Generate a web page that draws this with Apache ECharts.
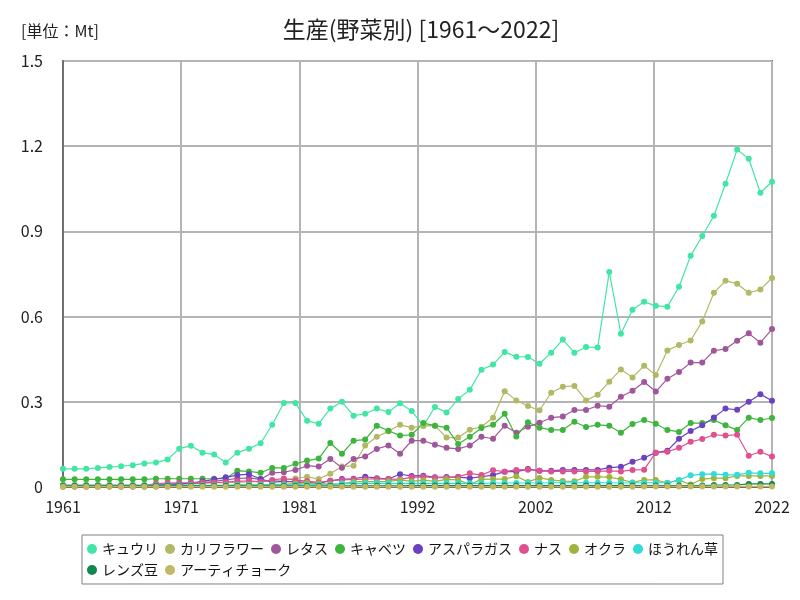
<!DOCTYPE html>
<html>
<head>
<meta charset="utf-8">
<script src="https://cdn.jsdelivr.net/npm/echarts@6/dist/echarts.min.js"></script>
<style>html,body{margin:0;padding:0;background:#fff;}#c{width:800px;height:600px;}</style>
</head>
<body>
<div id="c"></div>
<script>
const years = [];
for (let y = 1961; y <= 2022; y++) years.push(y);

const seriesNames = ['キュウリ','カリフラワー','レタス','キャベツ','アスパラガス','ナス','オクラ','ほうれん草','レンズ豆','アーティチョーク'];
const seriesColors = ['#42e6a4','#b3b865','#a0579a','#3db53d','#6c40c2','#e0508f','#9fb43c','#32dcd6','#10884f','#c2b862'];

const cucumber = [0.064,0.064,0.064,0.067,0.070,0.073,0.077,0.083,0.086,0.097,
0.135,0.145,0.121,0.114,0.086,0.121,0.135,0.154,0.219,0.296,
0.296,0.233,0.223,0.276,0.300,0.251,0.258,0.276,0.264,0.295,
0.268,0.215,0.282,0.262,0.310,0.342,0.413,0.431,0.475,0.459,
0.458,0.434,0.473,0.519,0.473,0.493,0.491,0.757,0.540,0.624,
0.652,0.638,0.635,0.705,0.814,0.884,0.955,1.068,1.188,1.156,
1.036,1.075];
const cauliflower = [0.008,0.008,0.008,0.008,0.008,0.008,0.008,0.008,0.010,0.010,
0.012,0.012,0.013,0.014,0.015,0.017,0.018,0.020,0.022,0.025,
0.030,0.036,0.028,0.047,0.072,0.075,0.146,0.177,0.196,0.219,
0.209,0.215,0.216,0.174,0.174,0.202,0.212,0.244,0.337,0.305,
0.285,0.270,0.332,0.353,0.356,0.305,0.325,0.371,0.414,0.386,
0.427,0.394,0.481,0.500,0.516,0.583,0.684,0.726,0.716,0.684,
0.695,0.736];
const lettuce = [0.004,0.004,0.004,0.004,0.004,0.004,0.004,0.004,0.008,0.010,
0.012,0.012,0.015,0.020,0.025,0.030,0.032,0.027,0.050,0.052,
0.060,0.075,0.072,0.099,0.068,0.099,0.107,0.134,0.146,0.117,
0.163,0.163,0.149,0.138,0.134,0.146,0.177,0.170,0.216,0.191,
0.212,0.226,0.244,0.248,0.271,0.271,0.286,0.283,0.318,0.339,
0.370,0.336,0.381,0.405,0.438,0.438,0.480,0.486,0.515,0.541,
0.508,0.556];
const cabbage = [0.027,0.027,0.027,0.027,0.027,0.027,0.027,0.027,0.029,0.029,
0.029,0.029,0.029,0.029,0.030,0.057,0.055,0.050,0.067,0.067,
0.082,0.093,0.100,0.155,0.117,0.163,0.167,0.216,0.198,0.181,
0.184,0.225,0.216,0.209,0.151,0.177,0.208,0.219,0.258,0.178,
0.228,0.209,0.201,0.201,0.230,0.211,0.219,0.216,0.191,0.222,
0.236,0.223,0.201,0.194,0.225,0.225,0.236,0.217,0.201,0.244,
0.236,0.243];
const asparagus = [0.002,0.002,0.002,0.002,0.002,0.002,0.002,0.002,0.004,0.006,
0.010,0.014,0.020,0.027,0.034,0.042,0.045,0.028,0.017,0.020,
0.018,0.016,0.013,0.022,0.028,0.029,0.036,0.031,0.028,0.045,
0.039,0.040,0.034,0.035,0.035,0.031,0.036,0.042,0.054,0.054,
0.063,0.057,0.057,0.060,0.060,0.060,0.060,0.068,0.071,0.089,
0.103,0.121,0.128,0.170,0.197,0.217,0.245,0.276,0.272,0.300,
0.327,0.304];
const eggplant = [0.003,0.003,0.003,0.003,0.003,0.003,0.003,0.003,0.012,0.014,
0.015,0.015,0.016,0.016,0.017,0.020,0.022,0.018,0.025,0.030,
0.024,0.021,0.016,0.022,0.025,0.027,0.028,0.029,0.028,0.027,
0.034,0.036,0.033,0.033,0.036,0.048,0.042,0.059,0.054,0.060,
0.061,0.057,0.055,0.055,0.055,0.055,0.055,0.057,0.055,0.060,
0.061,0.121,0.124,0.138,0.159,0.169,0.184,0.181,0.184,0.110,
0.124,0.107];
const okra = [0.002,0.002,0.002,0.002,0.002,0.002,0.002,0.002,0.002,0.002,
0.004,0.004,0.004,0.004,0.004,0.006,0.007,0.008,0.009,0.010,
0.012,0.014,0.012,0.010,0.012,0.018,0.020,0.018,0.020,0.025,
0.020,0.024,0.020,0.027,0.025,0.009,0.027,0.028,0.028,0.038,
0.018,0.032,0.025,0.021,0.020,0.036,0.036,0.035,0.027,0.016,
0.025,0.025,0.014,0.024,0.009,0.028,0.031,0.031,0.039,0.039,
0.039,0.039];
const spinach = [0.005,0.005,0.005,0.005,0.005,0.005,0.005,0.005,0.006,0.006,
0.006,0.006,0.006,0.006,0.006,0.008,0.008,0.008,0.008,0.008,
0.008,0.008,0.008,0.008,0.012,0.012,0.013,0.013,0.013,0.013,
0.013,0.013,0.013,0.013,0.013,0.013,0.013,0.014,0.014,0.014,
0.014,0.014,0.015,0.015,0.015,0.015,0.015,0.015,0.014,0.015,
0.015,0.015,0.015,0.025,0.041,0.045,0.046,0.043,0.043,0.050,
0.048,0.048];
const lentil = [0.004,0.004,0.004,0.004,0.004,0.004,0.004,0.004,0.004,0.004,
0.004,0.004,0.004,0.004,0.004,0.004,0.004,0.004,0.004,0.004,
0.004,0.004,0.004,0.004,0.004,0.004,0.004,0.004,0.004,0.004,
0.005,0.005,0.005,0.005,0.005,0.005,0.005,0.005,0.005,0.005,
0.005,0.005,0.005,0.005,0.005,0.005,0.005,0.005,0.005,0.005,
0.005,0.005,0.005,0.005,0.005,0.005,0.007,0.007,0.007,0.011,
0.011,0.011];
const artichoke = [0.001,0.001,0.001,0.001,0.001,0.001,0.001,0.001,0.001,0.001,
0.001,0.001,0.001,0.001,0.001,0.001,0.001,0.001,0.001,0.001,
0.001,0.001,0.001,0.001,0.001,0.001,0.001,0.001,0.001,0.001,
0.001,0.001,0.001,0.001,0.001,0.001,0.001,0.001,0.001,0.001,
0.001,0.001,0.001,0.001,0.001,0.001,0.001,0.001,0.001,0.001,
0.002,0.002,0.002,0.002,0.002,0.002,0.002,0.002,0.002,0.002,
0.002,0.002];

const allValues = [cucumber,cauliflower,lettuce,cabbage,asparagus,eggplant,okra,spinach,lentil,artichoke];

const FONT = '"Noto Sans CJK JP", "Noto Sans", sans-serif';
const firstYear = years[0];
const span = years[years.length-1] - firstYear;

const chart = echarts.init(document.getElementById('c'), null, {renderer:'canvas'});
chart.setOption({
  animation: false,
  backgroundColor: '#ffffff',
  textStyle: { fontFamily: FONT },
  title: [
    { text: '生産(野菜別) [1961～2022]', left: 416, top: 13, textAlign: 'center',
      textStyle: { fontFamily: FONT, fontSize: 23, fontWeight: 'normal', color: '#222' } },
    { text: '[単位：Mt]', left: 16, top: 18,
      textStyle: { fontFamily: FONT, fontSize: 16, fontWeight: 'normal', color: '#222' } }
  ],
  grid: { left: 63, right: 28, top: 61, bottom: 113, containLabel: false,
          show: true, borderColor: '#707070', borderWidth: 2 },
  legend: {
    left: 82, top: 535, width: 640, orient: 'horizontal',
    itemWidth: 10, itemHeight: 10, itemGap: 7, icon: 'circle',
    padding: [7, 5],
    borderColor: '#808080', borderWidth: 1,
    textStyle: { fontFamily: FONT, fontSize: 14, color: '#111' },
    data: seriesNames
  },
  xAxis: {
    type: 'value', min: 0, max: span, interval: span / 6,
    axisLine: { show: true, lineStyle: { color: '#707070', width: 2 } },
    axisTick: { show: false },
    splitLine: { show: true, lineStyle: { color: '#b4b4b4', width: 2 } },
    axisLabel: { fontFamily: FONT, fontSize: 16, color: '#222', margin: 12,
      formatter: v => String(Math.round(firstYear + v)) }
  },
  yAxis: {
    type: 'value', min: 0, max: 1.5, interval: 0.3,
    axisLine: { show: true, lineStyle: { color: '#707070', width: 2 } },
    axisTick: { show: false },
    splitLine: { show: true, lineStyle: { color: '#b4b4b4', width: 2 } },
    axisLabel: { fontFamily: FONT, fontSize: 16, color: '#222', margin: 20 }
  },
  series: seriesNames.map((name, k) => ({
    name: name,
    type: 'line',
    data: years.map((yr, i) => [yr - firstYear, allValues[k][i]]),
    symbol: 'circle',
    symbolSize: 6,
    showSymbol: true,
    itemStyle: { color: seriesColors[k] },
    lineStyle: { color: seriesColors[k], width: 1.2 },
    emphasis: { disabled: true }
  }))
});
</script>
</body>
</html>
